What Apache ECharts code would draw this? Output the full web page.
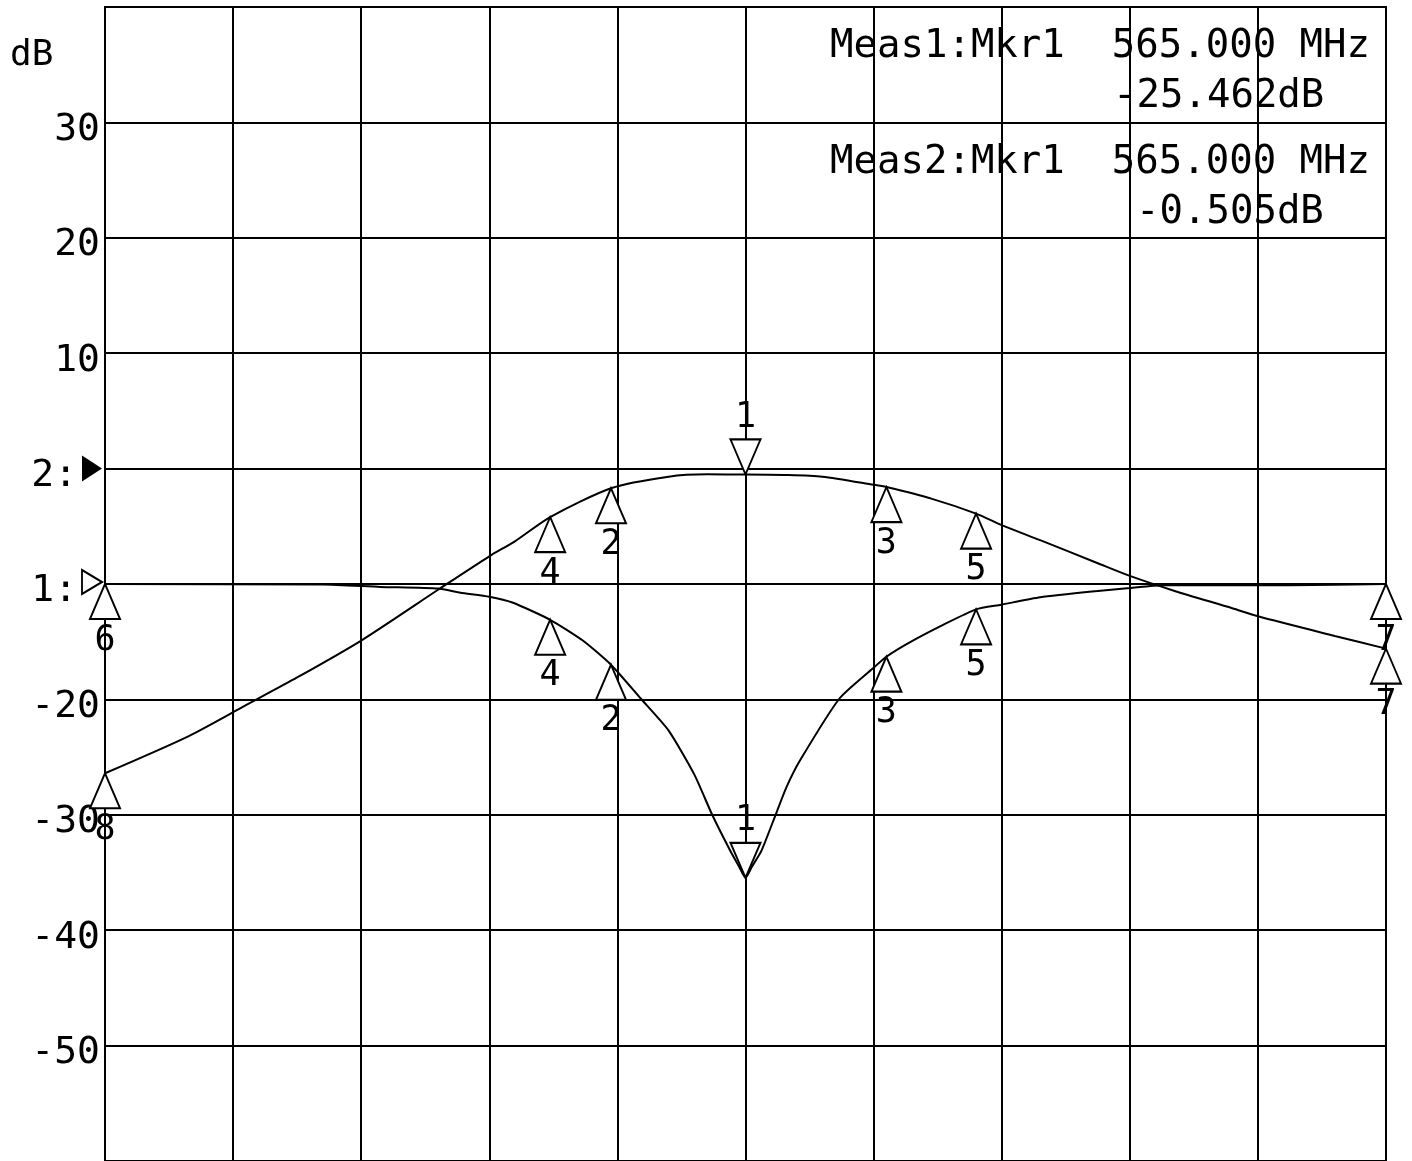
<!DOCTYPE html>
<html>
<head>
<meta charset="utf-8">
<script src="https://cdn.jsdelivr.net/npm/echarts@6/dist/echarts.min.js"></script>
<style>
  html, body { margin: 0; padding: 0; background: #fff; }
  #chart { width: 1412px; height: 1161px; }
</style>
</head>
<body>
<div id="chart"></div>
<script>
// 频率轴 (MHz)，中心 565 MHz，每格 20 MHz
const FREQ_MIN = 465;
const FREQ_MAX = 665;

// Meas2 (上面那条通带曲线)，参考线 "2:" = 0 dB
const meas2Freq = [465, 478, 487, 495, 505, 517, 525, 529, 534.5, 544, 553, 559, 565, 571, 577, 585, 587, 594, 601, 605, 611, 620, 625, 632, 641, 645, 657, 665];
const meas2dB   = [-26.4, -23.2, -20.5, -18.1, -14.9, -10.5, -7.6, -6.3, -4.2, -1.7, -0.7, -0.5, -0.505, -0.55, -0.7, -1.4, -1.6, -2.6, -3.9, -4.9, -6.2, -8.2, -9.3, -10.6, -12.1, -12.8, -14.5, -15.6];

// Meas1 (陷波曲线)，参考线 "1:" = 0 dB
const meas1Freq = [465, 499, 508, 517, 520.5, 525, 528.6, 534.5, 539.6, 544, 548.6, 553, 557, 559.8, 562.6, 564, 565, 566, 567.5, 569.7, 571.4, 573.5, 579.7, 584.9, 587, 590.5, 596, 601, 604.9, 611, 620, 625, 630, 650, 665];
const meas1dB   = [0, -0.05, -0.25, -0.4, -0.75, -1.1, -1.6, -3.1, -4.9, -7.0, -9.9, -12.7, -16.5, -20.0, -23.1, -24.5, -25.462, -24.5, -23.1, -20.0, -17.6, -15.3, -9.9, -7.3, -6.3, -5.1, -3.5, -2.2, -1.8, -1.15, -0.6, -0.35, -0.1, -0.1, 0];

// 标记点
const mk2Freq = [565, 544, 587, 534.5, 601, 665, 465];
const mk2dB   = [-0.505, -1.7, -1.6, -4.2, -3.9, -15.6, -26.4];
const mk2Num  = ['1', '2', '3', '4', '5', '7', '8'];
const mk1Freq = [565, 544, 587, 534.5, 601, 465, 665];
const mk1dB   = [-25.462, -7.0, -6.3, -3.1, -2.2, 0, 0];
const mk1Num  = ['1', '2', '3', '4', '5', '6', '7'];

// 纵轴刻度文字 (Meas2 刻度)
const refLabels = { '0': '2:', '-10': '1:' };

const FONT = "'DejaVu Sans Mono', monospace";
const TRI_UP = 'path://M5,0 L10,12 L0,12 Z';
const TRI_DOWN = 'path://M0,0 L10,0 L5,12 Z';
const TRI_RIGHT = 'path://M0,0 L10,6 L0,12 Z';

function zip(xs, ys) {
  return xs.map((x, i) => [x, ys[i]]);
}

// 标记三角形：1 号为倒三角在上方，其余为正三角在下方
function markerData(fs, vs, nums) {
  return fs.map((f, i) => {
    const active = nums[i] === '1';
    return {
      value: [f, vs[i]],
      symbol: active ? TRI_DOWN : TRI_UP,
      symbolOffset: [0, active ? -17.5 : 17.5],
      label: { position: active ? 'top' : 'bottom', formatter: nums[i] }
    };
  });
}

function markerSeries(name, yIdx, fs, vs, nums) {
  return {
    name: name,
    type: 'scatter',
    yAxisIndex: yIdx,
    clip: false,
    z: 5,
    symbolSize: [30, 35],
    itemStyle: { color: '#fff', borderColor: '#000', borderWidth: 2, opacity: 1 },
    label: {
      show: true,
      distance: 3,
      color: '#000',
      fontFamily: FONT,
      fontSize: 35
    },
    data: markerData(fs, vs, nums)
  };
}

const chart = echarts.init(document.getElementById('chart'));

const textFont = "39px 'DejaVu Sans Mono'";

chart.setOption({
  animation: false,
  backgroundColor: '#fff',
  grid: {
    left: 105,
    top: 7,
    right: 26,
    height: 1156,
    show: true,
    borderColor: '#000',
    borderWidth: 2
  },
  xAxis: {
    type: 'value',
    min: FREQ_MIN,
    max: FREQ_MAX,
    interval: 20,
    axisLine: { show: false },
    axisTick: { show: false },
    axisLabel: { show: false },
    splitLine: { lineStyle: { color: '#000', width: 2 } }
  },
  yAxis: [
    {
      type: 'value',
      min: -60,
      max: 40,
      interval: 10,
      axisLine: { show: true, lineStyle: { color: '#000', width: 2 } },
      axisTick: { show: false },
      splitLine: { lineStyle: { color: '#000', width: 2 } },
      axisLabel: {
        margin: 5,
        formatter: function (v) {
          if (v === 40 || v === -60) return '';
          if (refLabels[String(v)]) return '{a|' + refLabels[String(v)] + ' }';
          return '{a|' + v + '}';
        },
        rich: {
          a: {
            color: '#000',
            fontFamily: FONT,
            fontSize: 38,
            padding: [15, 0, 0, 0]
          }
        }
      }
    },
    {
      // Meas1 自己的刻度：参考线 "1:" 为 0 dB
      type: 'value',
      min: -50,
      max: 50,
      interval: 10,
      show: false
    }
  ],
  graphic: [
    { type: 'text', left: 10, top: 38, style: { text: 'dB', font: "36px 'DejaVu Sans Mono'", fill: '#000' } },
    { type: 'text', x: 830, y: 47, style: { text: 'Meas1:Mkr1  565.000 MHz', font: textFont, fill: '#000', verticalAlign: 'middle' } },
    { type: 'text', x: 1113, y: 97, style: { text: '-25.462dB', font: textFont, fill: '#000', verticalAlign: 'middle' } },
    { type: 'text', x: 830, y: 163, style: { text: 'Meas2:Mkr1  565.000 MHz', font: textFont, fill: '#000', verticalAlign: 'middle' } },
    { type: 'text', x: 1136, y: 213, style: { text: '-0.505dB', font: textFont, fill: '#000', verticalAlign: 'middle' } }
  ],
  series: [
    {
      name: 'Meas2',
      type: 'line',
      yAxisIndex: 0,
      data: zip(meas2Freq, meas2dB),
      symbol: 'none',
      smooth: 0.25,
      lineStyle: { color: '#000', width: 2 },
      markPoint: {
        silent: true,
        symbol: TRI_RIGHT,
        symbolSize: [20, 26],
        symbolOffset: [-13, 0],
        itemStyle: { color: '#000' },
        label: { show: false },
        data: [{ coord: [FREQ_MIN, 0] }]
      }
    },
    {
      name: 'Meas1',
      type: 'line',
      yAxisIndex: 1,
      data: zip(meas1Freq, meas1dB),
      symbol: 'none',
      smooth: 0.2,
      lineStyle: { color: '#000', width: 2 },
      markPoint: {
        silent: true,
        symbol: TRI_RIGHT,
        symbolSize: [20, 24],
        symbolOffset: [-13, -2],
        itemStyle: { color: '#fff', borderColor: '#000', borderWidth: 2 },
        label: { show: false },
        data: [{ coord: [FREQ_MIN, 0] }]
      }
    },
    markerSeries('Meas2 markers', 0, mk2Freq, mk2dB, mk2Num),
    markerSeries('Meas1 markers', 1, mk1Freq, mk1dB, mk1Num)
  ]
});
</script>
</body>
</html>
